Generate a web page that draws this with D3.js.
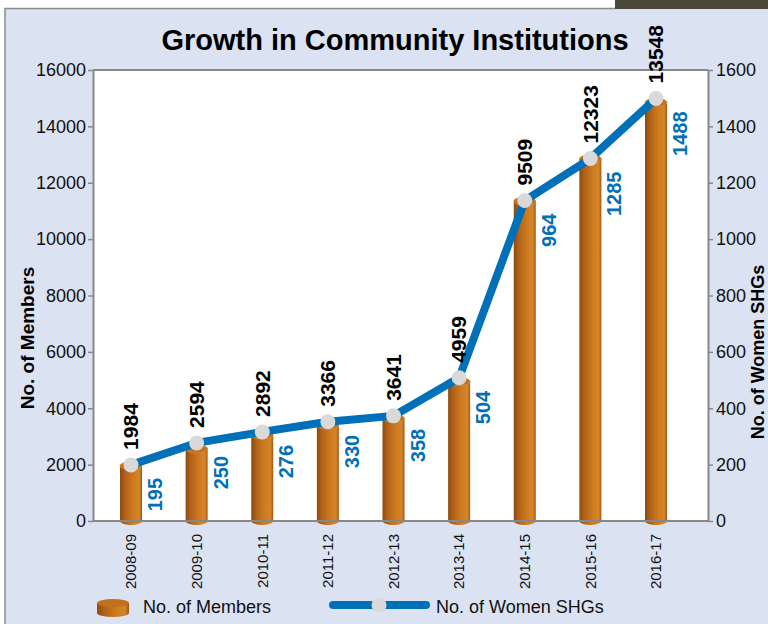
<!DOCTYPE html>
<html>
<head>
<meta charset="utf-8">
<script src="https://cdn.jsdelivr.net/npm/d3@7"></script>
<style>
  body { margin: 0; background: #fff; }
  svg { display: block; }
  text { font-family: "Liberation Sans", Arial, sans-serif; }
</style>
</head>
<body>
<div id="chart-area"></div>
<script>
// data
var years = ["2008-09", "2009-10", "2010-11", "2011-12", "2012-13", "2013-14", "2014-15", "2015-16", "2016-17"];
var members = [1984, 2594, 2892, 3366, 3641, 4959, 9509, 12323, 13548];      // printed labels
var memberBars = [1960, 2560, 3050, 3400, 3640, 4950, 11350, 12850, 14850];  // drawn bar heights
var shgs = [195, 250, 276, 330, 358, 504, 964, 1285, 1488];                  // printed labels
var shgPoints = [199, 277, 316, 352, 373, 508, 1137, 1286, 1499];           // drawn line points
var memberTicks = [0, 2000, 4000, 6000, 8000, 10000, 12000, 14000, 16000];
var shgTicks = [0, 200, 400, 600, 800, 1000, 1200, 1400, 1600];

var W = 768, H = 624;
var plot = { left: 93, right: 708, top: 70, bottom: 521 };

var svg = d3.select("#chart-area")
    .append("svg")
        .attr("width", W)
        .attr("height", H);

// background panel
svg.append("rect").attr("width", W).attr("height", H).attr("fill", "#fff");
svg.append("rect")
    .attr("x", 5).attr("y", 8)
    .attr("width", W - 5).attr("height", H - 8)
    .attr("fill", "#dbe2f1");
svg.append("path")
    .attr("d", "M5," + H + "V8.5H615")
    .attr("fill", "none")
    .attr("stroke", "#8a8a8a")
    .attr("stroke-width", 1.5);
svg.append("rect")
    .attr("x", 615).attr("y", 0)
    .attr("width", W - 615).attr("height", 9)
    .attr("fill", "#4b473b");

// plot area
svg.append("rect")
    .attr("x", plot.left).attr("y", plot.top)
    .attr("width", plot.right - plot.left).attr("height", plot.bottom - plot.top)
    .attr("fill", "#fff");

var defs = svg.append("defs");
var grad = defs.append("linearGradient")
    .attr("id", "cyl")
    .attr("x1", "0%").attr("x2", "100%").attr("y1", "0%").attr("y2", "0%");
[["0%", "#8c4a0c"], ["22%", "#b0611a"], ["62%", "#cf7c1f"], ["88%", "#d6842a"], ["100%", "#9c5612"]]
    .forEach(function(s){ grad.append("stop").attr("offset", s[0]).attr("stop-color", s[1]); });

// scales
var x = d3.scalePoint()
    .domain(years)
    .range([131, 656]);

var yL = d3.scaleLinear()
    .domain([0, 16000])
    .range([plot.bottom, plot.top]);

var yR = d3.scaleLinear()
    .domain([0, 1600])
    .range([plot.bottom, plot.top]);

// axes
var leftAxis = svg.append("g")
    .attr("transform", "translate(" + plot.left + ",0)")
    .call(d3.axisLeft(yL).tickValues(memberTicks).tickFormat(d3.format("d"))
        .tickSize(5).tickPadding(2).tickSizeOuter(0));

var rightAxis = svg.append("g")
    .attr("transform", "translate(" + plot.right + ",0)")
    .call(d3.axisRight(yR).tickValues(shgTicks).tickFormat(d3.format("d"))
        .tickSize(5).tickPadding(3).tickSizeOuter(0));

[leftAxis, rightAxis].forEach(function(a){
    a.select(".domain").attr("stroke", "#888").attr("stroke-width", 2);
    a.selectAll(".tick line").attr("stroke", "#888").attr("stroke-width", 1.5);
    a.selectAll(".tick text")
        .attr("font-size", "18px")
        .attr("fill", "#111")
        .style("font-family", "'Liberation Sans', Arial, sans-serif");
});

// top border
svg.append("line")
    .attr("x1", plot.left).attr("x2", plot.right)
    .attr("y1", plot.top).attr("y2", plot.top)
    .attr("stroke", "#888").attr("stroke-width", 2);

// bars (cylinders)
var bw = 22, ry = 4;
var bars = svg.selectAll("g.bar")
    .data(years)
    .enter()
    .append("g")
        .attr("class", "bar");

bars.append("ellipse")
    .attr("cx", function(d){ return x(d); })
    .attr("cy", plot.bottom)
    .attr("rx", bw / 2).attr("ry", ry)
    .attr("fill", "url(#cyl)");

bars.append("rect")
    .attr("x", function(d){ return x(d) - bw / 2; })
    .attr("y", function(d, i){ return yL(memberBars[i]); })
    .attr("width", bw)
    .attr("height", function(d, i){ return plot.bottom - yL(memberBars[i]); })
    .attr("fill", "url(#cyl)");

bars.append("ellipse")
    .attr("cx", function(d){ return x(d); })
    .attr("cy", function(d, i){ return yL(memberBars[i]); })
    .attr("rx", bw / 2).attr("ry", ry)
    .attr("fill", "#c2701d")
    .attr("stroke", "#d88a35")
    .attr("stroke-width", 0.8);

// bottom axis line
svg.append("line")
    .attr("x1", plot.left).attr("x2", plot.right)
    .attr("y1", plot.bottom).attr("y2", plot.bottom)
    .attr("stroke", "#888").attr("stroke-width", 2);

// line
var line = d3.line()
    .x(function(d, i){ return x(years[i]); })
    .y(function(d){ return yR(d); });

svg.append("path")
    .datum(shgPoints)
    .attr("d", line)
    .attr("fill", "none")
    .attr("stroke", "#0070b8")
    .attr("stroke-width", 8)
    .attr("stroke-linejoin", "round");

svg.selectAll("circle.pt")
    .data(shgPoints)
    .enter()
    .append("circle")
        .attr("class", "pt")
        .attr("cx", function(d, i){ return x(years[i]); })
        .attr("cy", function(d){ return yR(d); })
        .attr("r", 7.5)
        .attr("fill", "#d9d9d9");

// member labels (black, above the points)
svg.selectAll("text.mlab")
    .data(members)
    .enter()
    .append("text")
        .attr("class", "mlab")
        .attr("transform", function(d, i){
            return "translate(" + x(years[i]) + "," + (yR(shgPoints[i]) - 15) + ") rotate(-90)";
        })
        .attr("dy", "0.35em")
        .attr("font-size", "21px")
        .attr("font-weight", "bold")
        .attr("fill", "#000")
        .text(function(d){ return d; });

// SHG labels (blue, right of the bars)
svg.selectAll("text.slab")
    .data(shgs)
    .enter()
    .append("text")
        .attr("class", "slab")
        .attr("transform", function(d, i){
            return "translate(" + (x(years[i]) + 24) + "," + (yR(shgPoints[i]) + 13) + ") rotate(-90)";
        })
        .attr("dy", "0.35em")
        .attr("text-anchor", "end")
        .attr("font-size", "20px")
        .attr("font-weight", "bold")
        .attr("fill", "#0070b8")
        .text(function(d){ return d; });

// category labels
svg.selectAll("text.cat")
    .data(years)
    .enter()
    .append("text")
        .attr("class", "cat")
        .attr("transform", function(d){ return "translate(" + x(d) + ",534) rotate(-90)"; })
        .attr("dy", "0.35em")
        .attr("text-anchor", "end")
        .attr("font-size", "15px")
        .style("font-family", "'Liberation Sans Narrow', 'Liberation Sans', Arial, sans-serif")
        .attr("fill", "#111")
        .text(function(d){ return d; });

// Title
svg.append("text")
    .attr("x", 395)
    .attr("y", 50)
    .attr("text-anchor", "middle")
    .attr("font-size", "29px")
    .attr("font-weight", "bold")
    .attr("fill", "#000")
    .text("Growth in Community Institutions");

// Y labels
svg.append("text")
    .attr("transform", "translate(27,338) rotate(-90)")
    .attr("dy", "0.35em")
    .attr("text-anchor", "middle")
    .attr("font-size", "19px")
    .attr("font-weight", "bold")
    .text("No. of Members");

svg.append("text")
    .attr("transform", "translate(758,352) rotate(-90)")
    .attr("dy", "0.35em")
    .attr("text-anchor", "middle")
    .attr("font-size", "18px")
    .attr("font-weight", "bold")
    .text("No. of Women SHGs");

// Legend
var lg = svg.append("g");
lg.append("ellipse").attr("cx", 113).attr("cy", 613).attr("rx", 16).attr("ry", 4).attr("fill", "url(#cyl)");
lg.append("rect").attr("x", 97).attr("y", 603).attr("width", 32).attr("height", 10).attr("fill", "url(#cyl)");
lg.append("ellipse").attr("cx", 113).attr("cy", 603).attr("rx", 16).attr("ry", 4).attr("fill", "#c2701d");
lg.append("text")
    .attr("x", 143).attr("y", 613)
    .attr("font-size", "18px")
    .attr("fill", "#111")
    .text("No. of Members");

lg.append("line")
    .attr("x1", 333).attr("x2", 426)
    .attr("y1", 605).attr("y2", 605)
    .attr("stroke", "#0070b8").attr("stroke-width", 8)
    .attr("stroke-linecap", "round");
lg.append("circle").attr("cx", 379).attr("cy", 605).attr("r", 7.5).attr("fill", "#d9d9d9");
lg.append("text")
    .attr("x", 436).attr("y", 613)
    .attr("font-size", "18px")
    .attr("fill", "#111")
    .text("No. of Women SHGs");
</script>
</body>
</html>
